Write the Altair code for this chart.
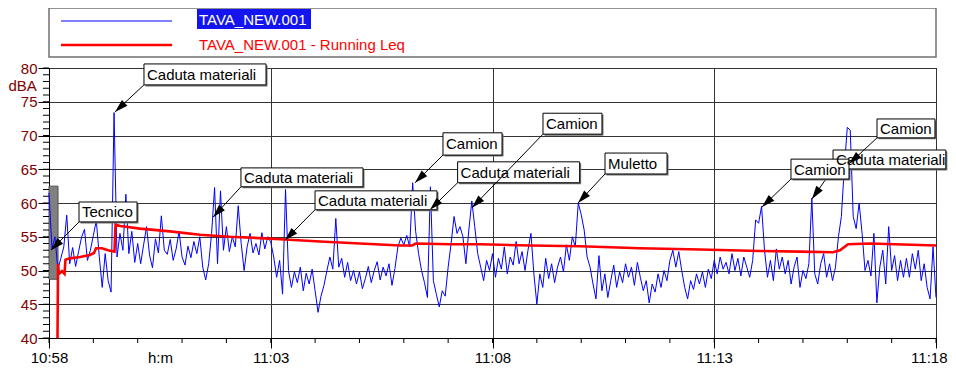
import math
import altair as alt
import pandas as pd

# ---------------- data ----------------
x_tick_seconds = [0, 300, 600, 900, 1200]
x_tick_labels = ["10:58", "11:03", "11:08", "11:13", "11:18"]
x_minor_seconds = list(range(0, 1201, 60))
y_ticks = [40, 45, 50, 55, 60, 65, 70, 75, 80]
y_minor = list(range(40, 81))

legend_names = ["TAVA_NEW.001", "TAVA_NEW.001 - Running Leq"]

# sound level, one reading every 4 s from 10:58:00
leq_step_s = 4
leq_values = [
    61.5, 53.2, 55.0, 50.2, 51.8, 53.5, 58.2, 51.0, 53.4, 50.6,
    52.8, 54.9, 56.1, 51.5, 53.0, 55.2, 57.4, 52.1, 47.5, 52.5,
    48.5, 46.8, 73.4, 52.0, 55.5, 53.0, 61.3, 52.5, 55.8, 51.2,
    54.0, 51.0, 53.8, 56.5, 52.3, 50.4, 54.7, 52.6, 58.1, 53.0,
    52.4, 54.6, 51.5, 53.2, 55.8, 52.0, 50.8, 53.6, 51.9, 54.3,
    52.5, 55.0, 50.5, 48.6, 51.0, 55.5, 62.3, 51.0, 61.8, 53.0,
    56.5, 52.8, 55.0, 53.5, 59.6, 54.0, 50.0, 53.5, 55.5, 52.6,
    54.0, 52.3, 55.6, 53.2, 55.0, 54.2, 52.0, 49.0, 51.5, 46.5,
    62.0, 50.0, 47.5, 49.8, 48.2, 50.5, 47.0, 49.6, 48.0, 50.2,
    47.0, 43.8, 46.2, 47.8, 50.0, 52.0, 50.2, 57.7, 50.5, 51.8,
    49.0, 51.2, 48.5, 50.0, 48.0, 49.8, 47.3, 48.8, 50.6, 48.2,
    50.0, 51.3, 48.6, 50.5, 49.2, 51.0, 47.8, 50.3, 53.5, 54.8,
    53.8, 55.2, 53.5, 63.0, 55.8, 52.5, 50.0, 48.2, 46.0, 62.4,
    48.5, 46.5, 44.6, 47.0, 46.2, 50.5, 54.0, 58.0, 55.5, 56.5,
    55.0, 51.0, 56.0, 60.3, 56.5, 52.5, 50.5, 48.5, 51.5, 50.0,
    52.5, 49.0, 51.8, 50.2, 53.5, 49.5, 52.0, 50.8, 54.3, 51.0,
    52.8, 50.0, 53.0, 55.5, 49.5, 45.0, 49.5, 47.5, 51.8, 48.8,
    51.0, 48.2, 50.5, 52.0, 49.8, 53.8, 51.5, 55.0, 53.5, 60.0,
    58.3, 56.0, 52.0, 50.5, 48.0, 45.8, 52.2, 47.0, 49.5, 46.0,
    48.5, 50.8, 47.5, 49.8, 48.2, 51.0, 49.0, 50.5, 47.8, 51.2,
    49.0, 47.0, 48.5, 45.2, 48.0, 46.8, 49.5, 47.5, 50.0, 48.5,
    51.5, 53.0, 50.5, 52.8, 50.0, 47.5, 45.8, 48.5, 47.2, 49.5,
    48.0, 49.8, 47.5, 50.2, 48.8, 51.5, 49.5, 52.0, 50.2, 51.2,
    49.5, 52.5, 50.0, 51.8, 49.2, 52.0, 50.5, 49.0, 51.5, 57.5,
    57.0, 59.5, 53.0, 49.0, 51.5, 48.5, 53.2, 50.2, 52.0, 49.5,
    51.5, 48.0, 50.5, 52.0, 47.5, 50.0, 48.8, 51.0, 60.7, 49.5,
    48.0, 51.0, 52.5, 49.0, 51.0, 48.5, 50.5, 55.0, 58.0, 65.3,
    71.2, 70.8, 58.0, 56.2, 60.0, 55.5, 50.0, 51.5, 49.2, 55.5,
    45.2, 50.5, 53.0, 48.0, 56.5, 50.0, 52.2, 48.5, 51.5, 49.0,
    51.8, 49.0, 52.5, 50.2, 53.0, 48.5, 51.0, 47.5, 45.8, 53.5,
    46.0,
]
leq_times = [i * leq_step_s for i in range(len(leq_values))]

running_t = [11.5, 12.2, 13.5, 17.6, 21.0, 22.3, 28.4, 41.9, 55.5, 60.9,
             63.6, 71.7, 79.8, 88.6, 90.0, 96.1, 123.1, 163.7, 204.3, 244.9,
             285.5, 319.3, 366.7, 420.7, 474.9, 491.1, 496.5, 542.5, 583.1, 650.7,
             718.4, 799.5, 880.7, 961.9, 1016.0, 1060.7, 1070.1, 1081.0, 1110.7, 1200.0]
running_db = [40.0, 51.0, 49.5, 49.9, 49.5, 51.6, 51.8, 52.0, 52.3, 52.6,
              53.3, 53.3, 53.0, 52.8, 56.8, 56.6, 56.2, 55.8, 55.3, 55.0,
              54.8, 54.6, 54.3, 54.0, 53.7, 53.7, 54.0, 53.9, 53.9, 53.7,
              53.6, 53.3, 53.1, 52.9, 52.8, 52.7, 53.0, 53.9, 54.0, 53.7]

# grey "Tecnico" marker band
marker_t = [0.0, 12.2]
marker_db = [48.7, 62.5]

# annotations (target point and label box, in seconds / dBA)
ann_label = ["Tecnico", "Caduta materiali", "Caduta materiali", "Caduta materiali",
             "Camion", "Caduta materiali", "Camion", "Muletto",
             "Caduta materiali", "Camion", "Camion"]
ann_target_t = [2.7, 89.3, 221.9, 319.3, 495.2, 515.4, 572.3, 715.7, 1032.2, 964.6, 1082.3]
ann_target_db = [53.0, 73.5, 57.9, 54.5, 63.0, 59.0, 59.3, 60.0, 60.6, 59.4, 65.8]
ann_box_t1 = [40.6, 128.5, 259.7, 359.9, 533.0, 552.8, 668.3, 752.2, 1060.7, 1003.8, 1120.2]
ann_box_t2 = [119.1, 293.6, 424.8, 524.9, 612.9, 717.9, 748.1, 836.1, 1213.3, 1082.3, 1198.6]
ann_box_top = [60.15, 80.6, 65.2, 61.8, 70.4, 66.1, 73.3, 67.4, 67.85, 66.5, 72.45]
ann_box_bottom = [57.2, 77.5, 62.4, 59.0, 67.1, 63.0, 70.2, 64.3, 65.05, 63.55, 69.65]
ann_on_top = [6, 10]   # drawn after the others

# ---------------- layout / style ----------------
W, H = 887, 270
FONT = "Liberation Sans"
DARKRED = "#800000"
GRID = "#333333"
ARROW = "M0,0 L-0.3,1 L0.3,1 Z"

xs = alt.Scale(domain=[0, 1200], nice=False, zero=False)
ys = alt.Scale(domain=[40, 80], nice=False, zero=False)

label_expr = ("[" + ",".join(f"'{s}'" for s in x_tick_labels) + "][indexof(["
              + ",".join(str(v) for v in x_tick_seconds) + "], datum.value)]")
last_tick = f"datum.value == {x_tick_seconds[-1]}"

x_axis = alt.Axis(values=x_tick_seconds, labelExpr=label_expr, title="h:m",
                  tickSize=10, labelPadding=2, grid=True, gridColor=GRID,
                  labelFontSize=15, labelColor="black", labelFont=FONT,
                  labelAlign={"condition": {"test": last_tick, "value": "right"}, "value": "center"},
                  labelOffset={"condition": {"test": last_tick, "value": 11}, "value": 0},
                  titleX=111, titleY=12, titleAlign="center", titleBaseline="top",
                  titleFontSize=15, titleFontWeight="normal", titleFont=FONT,
                  titleColor="black", labelFlush=False, labelOverlap=False)
y_axis = alt.Axis(values=y_ticks, tickSize=11, labelPadding=1, grid=True, gridColor=GRID,
                  labelFontSize=15, labelColor=DARKRED, labelFont=FONT,
                  title="dBA", titleAngle=0, titleX=-41, titleY=17.5,
                  titleAlign="left", titleBaseline="middle", titleFontSize=15,
                  titleFontWeight="normal", titleColor=DARKRED, titleFont=FONT,
                  labelOverlap=False)


def X(field):
    return alt.X(field, type="quantitative", scale=xs, axis=x_axis)


def Y(field):
    return alt.Y(field, type="quantitative", scale=ys, axis=y_axis)


leq_df = pd.DataFrame({"t": leq_times, "db": leq_values})
run_df = pd.DataFrame({"t": running_t, "db": running_db})
marker_df = pd.DataFrame({"t1": [marker_t[0]], "t2": [marker_t[1]],
                          "d1": [marker_db[0]], "d2": [marker_db[1]]})
yminor_df = pd.DataFrame({"db": y_minor})
xminor_df = pd.DataFrame({"t": x_minor_seconds})

px_s = W / 1200.0
px_db = H / 40.0
angles = []
for tt, td, bx, bb in zip(ann_target_t, ann_target_db, ann_box_t1, ann_box_bottom):
    dx = (tt - bx) * px_s
    dy = -(td - bb) * px_db
    angles.append(math.degrees(math.atan2(dx, -dy)) % 360)

ann_df = pd.DataFrame({
    "label": ann_label, "tt": ann_target_t, "tdb": ann_target_db,
    "bx1": ann_box_t1, "bx2": ann_box_t2, "btop": ann_box_top, "bbot": ann_box_bottom,
    "ymid": [(a + b) / 2 for a, b in zip(ann_box_top, ann_box_bottom)],
    "angle": angles, "idx": list(range(len(ann_label))),
})

base = alt.Chart(leq_df)

marker = alt.Chart(marker_df).mark_rect(fill="#808080", stroke="#505050", strokeWidth=1).encode(
    x=X("t1"), x2="t2", y=Y("d1"), y2="d2")

yminor = alt.Chart(yminor_df).mark_rule(color="black", strokeWidth=1).encode(
    y=Y("db"), x=alt.value(-6), x2=alt.value(0))
xminor = alt.Chart(xminor_df).mark_rule(color="black", strokeWidth=1).encode(
    x=X("t"), y=alt.value(H), y2=alt.value(H + 5))

blue = base.mark_line(color="#0000FF", strokeWidth=1).encode(x=X("t"), y=Y("db"))
red = alt.Chart(run_df).mark_line(color="#FF0000", strokeWidth=2.6).encode(x=X("t"), y=Y("db"))


def ann_layers(df):
    arrow = alt.Chart(df).mark_rule(color="black", strokeWidth=1).encode(
        x=X("bx1"), y=Y("bbot"), x2="tt", y2="tdb")
    shadow = alt.Chart(df).mark_rect(fill="#707070", xOffset=1.5, x2Offset=1.5,
                                     yOffset=1.5, y2Offset=1.5).encode(
        x=X("bx1"), x2="bx2", y=Y("btop"), y2="bbot")
    box = alt.Chart(df).mark_rect(fill="white", stroke="black", strokeWidth=1).encode(
        x=X("bx1"), x2="bx2", y=Y("btop"), y2="bbot")
    text = alt.Chart(df).mark_text(align="left", baseline="middle", dx=3, dy=0.5,
                                   fontSize=15, font=FONT, color="black").encode(
        x=X("bx1"), y=Y("ymid"), text="label:N")
    head = alt.Chart(df).mark_point(shape=ARROW, filled=True, fill="black", strokeWidth=0,
                                    size=700, opacity=1).encode(
        x=X("tt"), y=Y("tdb"), angle=alt.Angle("angle:Q", scale=None))
    return [arrow, shadow, box, text, head]


ann_a = ann_df[~ann_df["idx"].isin(ann_on_top)]
ann_b = ann_df[ann_df["idx"].isin(ann_on_top)]

legend_df = pd.DataFrame({"name": legend_names})
one = alt.Chart(legend_df.iloc[[0]])
two = alt.Chart(legend_df.iloc[[1]])
leg_frame = one.mark_rect(fill="white", stroke="#707070", strokeWidth=1.5).encode(
    x=alt.value(0), x2=alt.value(W), y=alt.value(-60), y2=alt.value(-11))
leg_blue = one.mark_rule(color="#0000FF", strokeWidth=1).encode(
    x=alt.value(12), x2=alt.value(123), y=alt.value(-47))
leg_red = two.mark_rule(color="#FF0000", strokeWidth=2.6).encode(
    x=alt.value(12), x2=alt.value(123), y=alt.value(-23))
leg_hl = one.mark_rect(fill="#1414F0").encode(
    x=alt.value(148), x2=alt.value(262), y=alt.value(-59), y2=alt.value(-39))
leg_t1 = one.mark_text(align="left", baseline="middle", fontSize=15, font=FONT,
                       color="white").encode(x=alt.value(150), y=alt.value(-48.5), text="name:N")
leg_t2 = two.mark_text(align="left", baseline="middle", fontSize=15, font=FONT,
                       color="#FF0000").encode(x=alt.value(150), y=alt.value(-23), text="name:N")

layers = ([marker, yminor, xminor, blue, red] + ann_layers(ann_a) + ann_layers(ann_b)
          + [leg_frame, leg_blue, leg_red, leg_hl, leg_t1, leg_t2])

chart = alt.layer(*layers).properties(
    width=W, height=H,
    padding={"left": 41, "top": 60, "right": 12, "bottom": 28},
    autosize=alt.AutoSizeParams(type="none"),
    background="white",
).configure(font=FONT).configure_view(
    stroke="black", strokeWidth=1
).configure_axis(
    domainColor="black", tickColor="black", domainWidth=1, tickWidth=1,
    gridWidth=1, gridOpacity=1,
)

chart.save("out.html", embed_options={"renderer": "svg", "actions": False})
